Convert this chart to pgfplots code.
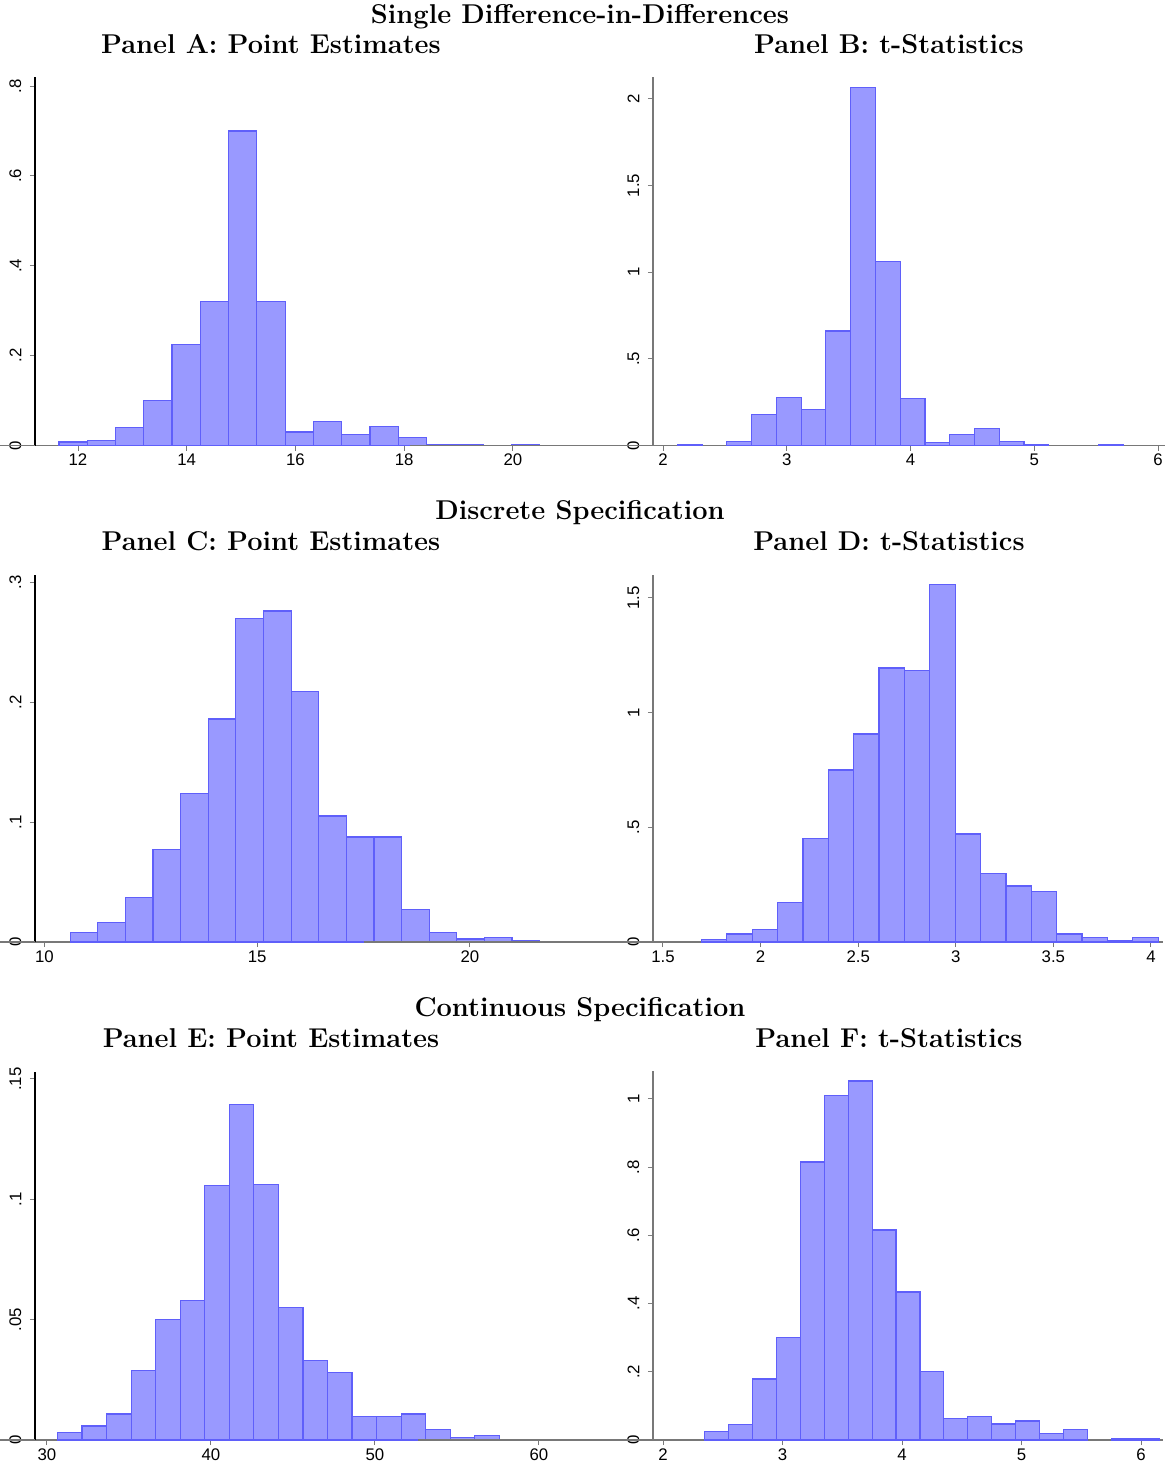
\documentclass[border=0pt]{standalone}
\usepackage{fontspec}
\usepackage{pgfplots}
\pgfplotsset{compat=1.18}
\newfontfamily\ticksf{Liberation Sans}
\newcommand{\ticklab}{\ticksf\fontsize{8.4}{9}\selectfont}
\newcommand{\titlefont}{\fontsize{13.6}{15}\selectfont\bfseries}
\definecolor{histfill}{RGB}{153,153,255}
\definecolor{histedge}{RGB}{95,95,250}
\definecolor{axgray}{RGB}{120,120,120}
\pgfplotsset{
  statahist/.style={
    scale only axis, anchor=south west,
    axis x line=bottom, axis y line=left, axis line style={-},
    x axis line style={axgray, line width=0.6pt},
    y axis line style={line width=0.6pt},
    tick align=outside, major tick length=2.6pt,
    xtick style={axgray, line width=0.5pt},
    ytick style={line width=0.5pt},
    minor tick num=0,
    ymin=0, enlargelimits=false, clip=false,
    ticklabel style={font=\ticklab, text=black},
    yticklabel style={rotate=90, anchor=south, inner xsep=1pt, inner ysep=4pt},
    xticklabel style={anchor=north, inner sep=1.5pt},
  },
  histbar/.style={ybar interval, fill=histfill, draw=histedge, line width=0.6pt},
}
\begin{document}
\begin{tikzpicture}
\useasboundingbox (0,0) rectangle (583.5pt,-732pt);

% ---------------- Row 1 titles
\node[anchor=base, font=\titlefont] at (290pt,-11.5pt) {Single Difference-in-Differences};
\node[anchor=base, font=\titlefont] at (135.5pt,-26.5pt) {Panel A: Point Estimates};
\node[anchor=base, font=\titlefont] at (444.5pt,-26.5pt) {Panel B: t-Statistics};

% Panel A
\begin{axis}[statahist, at={(17.5pt,-222.75pt)}, width=257pt, height=184.25pt,
  xmin=11.209, xmax=20.662, ymax=0.820,
  y axis line style={black},
  xtick={12,14,16,18,20}, xticklabels={12,14,16,18,20},
  ytick={0,0.2,0.4,0.6,0.8}, yticklabels={0,.2,.4,.6,.8}]
\addplot[histbar] coordinates {
 (11.65,0.008) (12.17,0.012) (12.69,0.040) (13.21,0.100) (13.73,0.225)
 (14.25,0.321) (14.77,0.700) (15.29,0.321) (15.81,0.030) (16.33,0.053)
 (16.85,0.025) (17.37,0.043) (17.89,0.018) (18.41,0.002) (18.93,0.002) (19.45,0)};
\addplot[histbar] coordinates {(19.97,0.002) (20.49,0)};
\draw[axgray, line width=0.6pt] (rel axis cs:0,0) -- ++(-3pt,0);
\end{axis}

% Panel B
\begin{axis}[statahist, at={(326.5pt,-222.75pt)}, width=256pt, height=184.25pt,
  xmin=1.919, xmax=6.056, ymax=2.125,
  y axis line style={axgray},
  xtick={2,3,4,5,6}, xticklabels={2,3,4,5,6},
  ytick={0,0.5,1,1.5,2}, yticklabels={0,.5,1,1.5,2}]
\addplot[histbar] coordinates {(2.116,0.005) (2.316,0)};
\addplot[histbar] coordinates {
 (2.516,0.025) (2.716,0.180) (2.916,0.278) (3.116,0.208) (3.316,0.660)
 (3.516,2.065) (3.716,1.060) (3.916,0.271) (4.116,0.016) (4.316,0.064)
 (4.516,0.099) (4.716,0.023) (4.916,0.004) (5.116,0)};
\addplot[histbar] coordinates {(5.516,0.004) (5.716,0)};
\draw[axgray, line width=0.6pt] (rel axis cs:0,0) -- ++(-3pt,0);
\end{axis}

% ---------------- Row 2 titles
\node[anchor=base, font=\titlefont] at (290pt,-259.5pt) {Discrete Specification};
\node[anchor=base, font=\titlefont] at (135.5pt,-275pt) {Panel C: Point Estimates};
\node[anchor=base, font=\titlefont] at (444.5pt,-275pt) {Panel D: t-Statistics};

% Panel C
\begin{axis}[statahist, at={(17.5pt,-471pt)}, width=256pt, height=183.5pt,
  xmin=9.777, xmax=21.81, ymax=0.306,
  y axis line style={black},
  xtick={10,15,20}, xticklabels={10,15,20},
  ytick={0,0.1,0.2,0.3}, yticklabels={0,.1,.2,.3}]
\addplot[histbar] coordinates {
 (10.604,0.008) (11.253,0.016) (11.902,0.037) (12.551,0.077) (13.200,0.124)
 (13.849,0.186) (14.498,0.270) (15.147,0.276) (15.796,0.209) (16.445,0.105)
 (17.094,0.0875) (17.743,0.0875) (18.392,0.027) (19.041,0.008) (19.690,0.0025)
 (20.339,0.004) (20.988,0.001) (21.637,0)};
\draw[axgray, line width=0.6pt] (rel axis cs:0,0) -- ++(-3pt,0);
\end{axis}

% Panel D
\begin{axis}[statahist, at={(326.5pt,-471pt)}, width=255pt, height=183.5pt,
  xmin=1.4488, xmax=4.0615, ymax=1.600,
  y axis line style={axgray},
  xtick={1.5,2,2.5,3,3.5,4}, xticklabels={1.5,2,2.5,3,3.5,4},
  ytick={0,0.5,1,1.5}, yticklabels={0,.5,1,1.5}]
\addplot[histbar] coordinates {
 (1.697,0.012) (1.827,0.035) (1.957,0.056) (2.087,0.172) (2.217,0.450)
 (2.347,0.750) (2.477,0.907) (2.607,1.195) (2.737,1.182) (2.867,1.560)
 (2.997,0.471) (3.127,0.300) (3.257,0.244) (3.387,0.219) (3.517,0.035)
 (3.647,0.021) (3.777,0.004) (3.907,0.021) (4.037,0)};
\draw[axgray, line width=0.6pt] (rel axis cs:0,0) -- ++(-3pt,0);
\end{axis}

% ---------------- Row 3 titles
\node[anchor=base, font=\titlefont] at (290pt,-508pt) {Continuous Specification};
\node[anchor=base, font=\titlefont] at (135.5pt,-523.5pt) {Panel E: Point Estimates};
\node[anchor=base, font=\titlefont] at (444.5pt,-523.5pt) {Panel F: t-Statistics};

% Panel E
\begin{axis}[statahist, at={(17.5pt,-720pt)}, width=257pt, height=184pt,
  xmin=29.268, xmax=60.61, ymax=0.1529,
  y axis line style={black},
  xtick={30,40,50,60}, xticklabels={30,40,50,60},
  ytick={0,0.05,0.1,0.15}, yticklabels={0,.05,.1,.15}]
\addplot[histbar] coordinates {
 (30.63,0.0031) (32.13,0.0058) (33.63,0.0108) (35.13,0.0290) (36.62,0.0500)
 (38.12,0.0580) (39.62,0.1056) (41.12,0.1395) (42.61,0.1060) (44.11,0.0550)
 (45.61,0.0330) (47.11,0.0282) (48.60,0.0098) (50.10,0.0098) (51.60,0.0108)
 (53.10,0.0045) (54.60,0.0012) (56.09,0.0019) (57.59,0)};
\draw[axgray, line width=0.6pt] (rel axis cs:0,0) -- ++(-3pt,0);
\end{axis}

% Panel F
\begin{axis}[statahist, at={(326.5pt,-720pt)}, width=255pt, height=184.5pt,
  xmin=1.9163, xmax=6.184, ymax=1.082,
  y axis line style={axgray},
  xtick={2,3,4,5,6}, xticklabels={2,3,4,5,6},
  ytick={0,0.2,0.4,0.6,0.8,1}, yticklabels={0,.2,.4,.6,.8,1}]
\addplot[histbar] coordinates {
 (2.35,0.024) (2.55,0.045) (2.75,0.179) (2.95,0.300) (3.15,0.815)
 (3.35,1.010) (3.55,1.053) (3.75,0.616) (3.95,0.434) (4.15,0.202)
 (4.35,0.063) (4.55,0.068) (4.75,0.047) (4.95,0.056) (5.15,0.018)
 (5.35,0.030) (5.55,0)};
\addplot[histbar] coordinates {(5.75,0.003) (5.95,0.003) (6.15,0)};
\draw[axgray, line width=0.6pt] (rel axis cs:0,0) -- ++(-3pt,0);
\end{axis}
\end{tikzpicture}
\end{document}
